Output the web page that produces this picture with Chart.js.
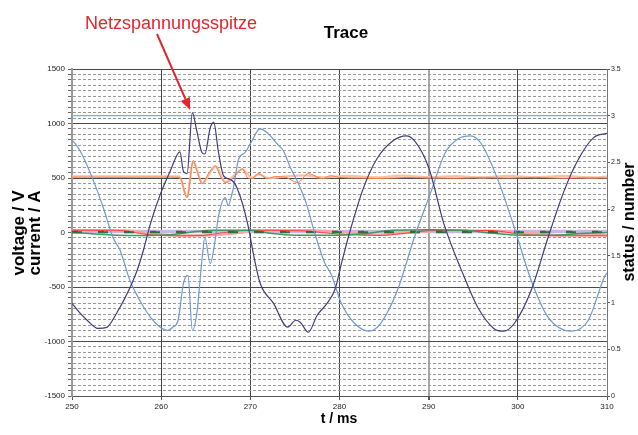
<!DOCTYPE html>
<html>
<head>
<meta charset="utf-8">
<script src="https://cdn.jsdelivr.net/npm/chart.js@4.4.0/dist/chart.umd.min.js"></script>
<style>
  html, body { margin: 0; padding: 0; background: #fff; }
</style>
</head>
<body>
<canvas id="trace_chart" width="638" height="435"></canvas>
<script>
// time axis ticks (ms)
const tTicks = [250, 260, 270, 280, 290, 300, 310];

// voltage, dark trace (with the spike)
const navyT = [250, 250.9, 251.7, 252.9, 253.9, 255, 256.2, 257.3, 258, 258.8, 259.9, 261, 262.1, 262.5, 262.9, 263.5, 264, 264.6, 264.9, 265.5, 265.9, 266.4, 267, 267.8, 268.5, 269.7, 270.4, 271.1, 272.6, 274.2, 275.1, 275.6, 276.5, 277.5, 278.6, 279.5, 280.2, 281.2, 282.7, 284.2, 286, 287.5, 288.4, 290, 291.7, 294, 295.5, 297.3, 298.4, 299.6, 301.5, 303.4, 305.2, 306.7, 308.5, 310];
const navyV = [-650, -740, -805, -880, -870, -741, -558, -348, -165, 82, 350, 560, 740, 560, 540, 1100, 930, 730, 720, 960, 1010, 750, 520, 485, 410, 80, -220, -466, -650, -869, -805, -823, -915, -759, -650, -520, -290, 18, 412, 677, 842, 887, 842, 596, 82, -410, -686, -880, -905, -835, -530, -44, 384, 658, 870, 910];

// voltage, light blue trace
const lightT = [250, 250.9, 252.4, 253.5, 254.6, 255.4, 256.5, 257.6, 258.8, 259.9, 260.7, 261.3, 261.9, 262.5, 263, 263.5, 264, 264.6, 264.9, 265.5, 266.1, 266.4, 267.2, 267.5, 268.1, 268.7, 269.4, 270, 271.1, 271.9, 273, 273.7, 274.5, 275.4, 276.3, 277.2, 278.3, 279.1, 280.2, 281.7, 283.3, 284.6, 286.5, 288.4, 290.3, 291.8, 293.3, 294.7, 295.9, 297.8, 299.6, 301.5, 303.4, 306, 307.9, 309.7, 310];
const lightV = [850, 750, 476, 229, -46, -165, -440, -622, -778, -869, -897, -869, -805, -466, -393, -897, -741, -229, -46, -284, -46, 137, 320, 247, 412, 677, 732, 814, 951, 915, 814, 750, 595, 448, 260, 0, -270, -390, -650, -835, -905, -835, -530, -44, 384, 723, 860, 887, 814, 476, 46, -440, -778, -905, -805, -410, -370];

// orange trace around 500 with ringing
const orangeT = [250, 255, 260, 262.1, 262.9, 263.6, 264, 264.6, 265.3, 266.1, 266.6, 267.2, 267.8, 268.5, 269.1, 269.7, 270.2, 270.9, 271.9, 272.8, 274, 275.3, 276.5, 278.1, 279, 280, 282, 284.6, 287.5, 290, 293, 296, 299, 302, 305, 308, 310];
const orangeV = [508, 506, 508, 505, 320, 660, 567, 448, 540, 613, 521, 458, 476, 540, 585, 503, 494, 540, 494, 512, 505, 458, 540, 494, 521, 505, 500, 495, 505, 500, 498, 504, 500, 505, 498, 502, 500];

// peach trace, same level
const peachT = [250, 262, 262.9, 263.6, 264.6, 266.1, 267.2, 269.1, 270.2, 270.9, 272, 274, 276, 278, 281, 284, 287, 290, 293, 296, 299, 302, 305, 308, 310];
const peachV = [515, 515, 330, 650, 455, 605, 465, 580, 500, 535, 500, 515, 525, 505, 520, 505, 522, 508, 518, 505, 520, 508, 520, 505, 512];

// currents near zero
const greenT = [250, 253, 255, 258, 261, 263.5, 266, 270, 272, 275, 280, 283, 286, 290, 294, 297, 300, 304, 307, 310];
const greenV = [0, -15, -25, -27, -20, 5, 20, 20, -5, -25, -25, -10, 20, 25, 20, -5, -25, -25, -10, 0];
const redT = [250, 255, 258.4, 261, 264.7, 266, 270, 276, 278, 280, 284.6, 287, 290.6, 297, 300, 303.4, 310];
const redV = [21, 20, -18, -30, -27, -12, 21, 15, 0, -15, -27, -10, 18, 18, -12, -30, -30];
const pinkT = [250, 256, 259, 262, 265, 268, 271, 276, 280, 284, 288, 292, 297, 301, 305, 310];
const pinkV = [20, 18, -10, -28, -28, -10, 18, 20, 5, -20, 0, 18, 15, -5, -25, -25];
const dredT = [250, 310];
const dredV = [8, 8];
const dgreenT = [250, 310];
const dgreenV = [3, 3];

// status channels (right axis)
const statusT = [250, 310];
const statusA = [3, 3];
const statusB = [1.76, 1.76];

// where the annotation arrow points
const spikeAt = [263.25, 1125];

function zip(ts, vs) {
    return ts.map((t, i) => ({ x: t, y: vs[i] }));
}

const font = '"Liberation Sans", Arial, sans-serif';

function line(data, color, width, axis, dash) {
    return {
        data: data,
        borderColor: color,
        borderWidth: width,
        borderDash: dash || [],
        pointRadius: 0,
        fill: false,
        cubicInterpolationMode: 'monotone',
        yAxisID: axis || 'y'
    };
}

const textLayer = {
    id: 'textLayer',
    afterDraw(chart) {
        const c = chart.ctx;
        const xs = chart.scales.x, ys = chart.scales.y;
        c.save();
        c.fillStyle = '#000';
        c.textAlign = 'center';
        c.textBaseline = 'alphabetic';
        c.font = 'bold 17px ' + font;
        c.fillText('Trace', 346, 38);
        c.font = 'bold 14px ' + font;
        c.fillText('t / ms', 339, 423);

        // rotated axis titles
        c.textBaseline = 'middle';
        [['voltage / V', 19, 233, 17], ['current / A', 35, 233, 17], ['status / number', 630, 222, 16]].forEach(function (a) {
            c.save();
            c.font = 'bold ' + a[3] + 'px ' + font;
            c.translate(a[1], a[2]);
            c.rotate(-Math.PI / 2);
            c.fillText(a[0], 0, 0);
            c.restore();
        });

        // annotation
        c.fillStyle = '#e3262b';
        c.strokeStyle = '#e3262b';
        c.textAlign = 'left';
        c.textBaseline = 'alphabetic';
        c.font = '18px ' + font;
        c.fillText('Netzspannungsspitze', 85, 29);

        const x0 = 157, y0 = 34;
        const x1 = xs.getPixelForValue(spikeAt[0]);
        const y1 = ys.getPixelForValue(spikeAt[1]);
        const ang = Math.atan2(y1 - y0, x1 - x0);
        const hl = 12, hw = 5;
        const bx = x1 - hl * Math.cos(ang), by = y1 - hl * Math.sin(ang);
        c.lineWidth = 2;
        c.beginPath();
        c.moveTo(x0, y0);
        c.lineTo(bx, by);
        c.stroke();
        c.beginPath();
        c.moveTo(x1, y1);
        c.lineTo(bx + hw * Math.sin(ang), by - hw * Math.cos(ang));
        c.lineTo(bx - hw * Math.sin(ang), by + hw * Math.cos(ang));
        c.closePath();
        c.fill();
        c.restore();
    }
};

const trace_chart = document.getElementById('trace_chart').getContext('2d');
new Chart(trace_chart, {
    type: 'line',
    data: {
        datasets: [
            line(zip(navyT, navyV), '#3d3d80', 1.2),
            line(zip(lightT, lightV), '#6f99d4', 1.2),
            line(zip(orangeT, orangeV), '#f47c45', 1),
            line(zip(peachT, peachV), '#ffbf9e', 2.2),
            line(zip(dgreenT, dgreenV), '#2f7040', 2, 'y', [10, 16]),
            line(zip(dredT, dredV), '#b02a2a', 2, 'y', [6, 20]),
            line(zip(greenT, greenV), '#3c9a5c', 1.5),
            line(zip(redT, redV), '#ff3c3c', 1),
            line(zip(pinkT, pinkV), '#ffa3a3', 2.5),
            line(zip(statusT, statusB), '#c9b6e6', 3.5, 'y2'),
            line(zip(statusT, statusA), '#6fb0e0', 1.2, 'y2')
        ]
    },
    options: {
        responsive: false,
        animation: false,
        layout: { padding: { top: 69, left: 0, right: 0, bottom: 0 } },
        plugins: {
            legend: { display: false },
            title: { display: false },
            tooltip: { enabled: false }
        },
        scales: {
            x: {
                type: 'linear',
                min: 250,
                max: 310,
                afterBuildTicks: function (scale) {
                    scale.ticks = tTicks.map(v => ({ value: v }));
                },
                afterFit: function (scale) { scale.height = 39; },
                ticks: { autoSkip: false, maxRotation: 0, padding: 2, color: '#222', font: { family: font, size: 8 } },
                grid: {
                    color: ctx => (ctx.tick && ctx.tick.value === 290) ? '#a8a8a8' : '#454545',
                    lineWidth: ctx => (ctx.tick && ctx.tick.value === 290) ? 2 : 1,
                    tickLength: 4,
                    tickColor: '#555'
                },
                border: { color: '#555', width: 1 }
            },
            y: {
                position: 'left',
                min: -1500,
                max: 1500,
                afterFit: function (scale) { scale.width = 72; },
                ticks: {
                    stepSize: 50,
                    autoSkip: false,
                    padding: 3,
                    color: '#222',
                    font: { family: font, size: 8 },
                    callback: v => (v % 500 === 0 ? v : '')
                },
                grid: {
                    color: ctx => (ctx.tick && ctx.tick.value % 500 === 0) ? '#4a4a4a' : '#999999',
                    tickLength: 4,
                    tickColor: '#666'
                },
                border: {
                    color: '#9a9a9a',
                    width: 2,
                    dash: ctx => (ctx.tick && ctx.tick.value % 500 !== 0) ? [3, 2] : []
                }
            },
            y2: {
                position: 'right',
                min: 0,
                max: 3.5,
                afterFit: function (scale) { scale.width = 31; },
                ticks: {
                    stepSize: 0.5,
                    autoSkip: false,
                    padding: 1,
                    color: '#222',
                    font: { family: font, size: 7 },
                    callback: v => String(v)
                },
                grid: { drawOnChartArea: false, tickLength: 3, tickColor: '#555' },
                border: { color: '#777', width: 1 }
            }
        }
    },
    plugins: [textLayer]
});
</script>
</body>
</html>
